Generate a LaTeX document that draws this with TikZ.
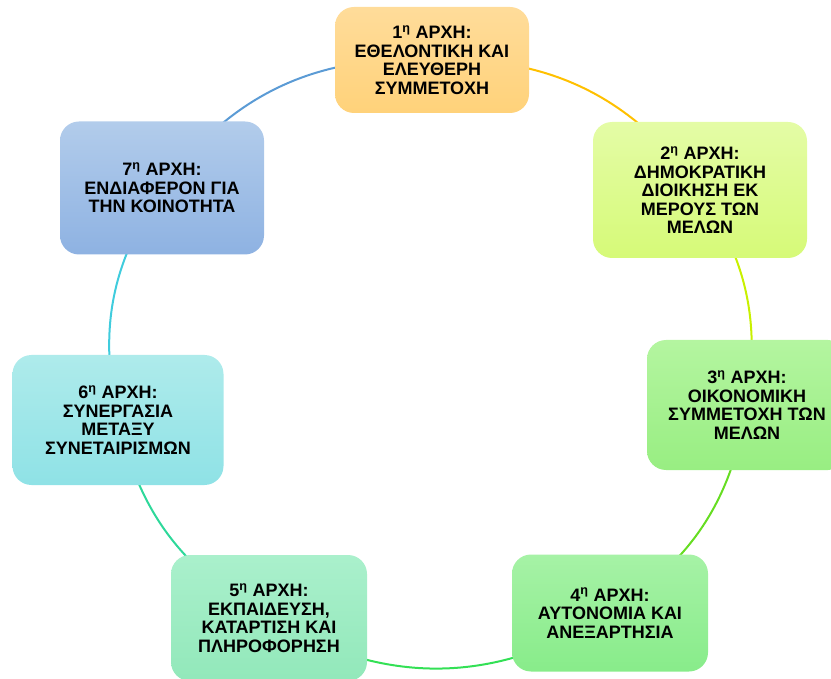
\documentclass[tikz,border=0pt]{standalone}
\usepackage{fontspec}
\setmainfont{Liberation Sans}
\usetikzlibrary{backgrounds}
\definecolor{t1}{HTML}{FFDC9A}\definecolor{b1}{HTML}{FFD27A}
\definecolor{t2}{HTML}{E4FCA6}\definecolor{b2}{HTML}{D6FA78}
\definecolor{t3}{HTML}{B4F5A0}\definecolor{b3}{HTML}{98EE82}
\definecolor{t4}{HTML}{A6F2A6}\definecolor{b4}{HTML}{88EC8A}
\definecolor{t5}{HTML}{AAF0CC}\definecolor{b5}{HTML}{92E8BA}
\definecolor{t6}{HTML}{AEEBEB}\definecolor{b6}{HTML}{8FE2E6}
\definecolor{t7}{HTML}{B2CCEB}\definecolor{b7}{HTML}{8EB2E2}
\definecolor{l71}{HTML}{5B9BD5}
\definecolor{l12}{HTML}{FFC000}
\definecolor{l23}{HTML}{C8F000}
\definecolor{l34}{HTML}{66DD22}
\definecolor{l45}{HTML}{33E055}
\definecolor{l56}{HTML}{2ED89A}
\definecolor{l67}{HTML}{40CCDD}
\tikzset{
  box/.style={rounded corners=19pt, align=center, inner sep=2pt,
    font=\bfseries\fontsize{18}{18.5}\selectfont, text=black},
  link/.style={line width=2pt}
}
\newcommand{\arx}[1]{#1\textsuperscript{η} ΑΡΧΗ:}
\begin{document}
\begin{tikzpicture}[x=1pt,y=-1pt]
\useasboundingbox (0,0) rectangle (831,679);
\node[box, top color=t1, bottom color=b1, minimum width=194pt, minimum height=106pt] (n1) at (432,60)
  {\arx{1}\\ΕΘΕΛΟΝΤΙΚΗ ΚΑΙ\\ΕΛΕΥΘΕΡΗ\\ΣΥΜΜΕΤΟΧΗ};
\node[box, top color=t2, bottom color=b2, minimum width=214pt, minimum height=136pt] (n2) at (700,190)
  {\arx{2}\\ΔΗΜΟΚΡΑΤΙΚΗ\\ΔΙΟΙΚΗΣΗ ΕΚ\\ΜΕΡΟΥΣ ΤΩΝ\\ΜΕΛΩΝ};
\node[box, top color=t3, bottom color=b3, minimum width=200pt, minimum height=130pt] (n3) at (747,405)
  {\arx{3}\\ΟΙΚΟΝΟΜΙΚΗ\\ΣΥΜΜΕΤΟΧΗ ΤΩΝ\\ΜΕΛΩΝ};
\node[box, top color=t4, bottom color=b4, minimum width=196pt, minimum height=117pt] (n4) at (610,613)
  {\arx{4}\\ΑΥΤΟΝΟΜΙΑ ΚΑΙ\\ΑΝΕΞΑΡΤΗΣΙΑ};
\node[box, top color=t5, bottom color=b5, minimum width=196pt, minimum height=126pt] (n5) at (269,618)
  {\arx{5}\\ΕΚΠΑΙΔΕΥΣΗ,\\ΚΑΤΑΡΤΙΣΗ ΚΑΙ\\ΠΛΗΡΟΦΟΡΗΣΗ};
\node[box, top color=t6, bottom color=b6, minimum width=211pt, minimum height=130pt] (n6) at (118,420)
  {\arx{6}\\ΣΥΝΕΡΓΑΣΙΑ\\ΜΕΤΑΞΥ\\ΣΥΝΕΤΑΙΡΙΣΜΩΝ};
\node[box, top color=t7, bottom color=b7, minimum width=204pt, minimum height=133pt] (n7) at (162,188)
  {\arx{7}\\ΕΝΔΙΑΦΕΡΟΝ ΓΙΑ\\ΤΗΝ ΚΟΙΝΟΤΗΤΑ};
\begin{scope}[on background layer]
  \draw[link, l12] (n1.center) to[bend left=28] (n2.center);
  \draw[link, l23] (n2.center) to[bend left=21] (n3.center);
  \draw[link, l34] (n3.center) to[bend left=24] (n4.center);
  \draw[link, l45] (n4.center) to[bend left=32] (n5.center);
  \draw[link, l56] (n5.center) to[bend left=24] (n6.center);
  \draw[link, l67] (n6.center) to[bend left=23] (n7.center);
  \draw[link, l71] (n7.center) to[bend left=28] (n1.center);
\end{scope}
\end{tikzpicture}
\end{document}
